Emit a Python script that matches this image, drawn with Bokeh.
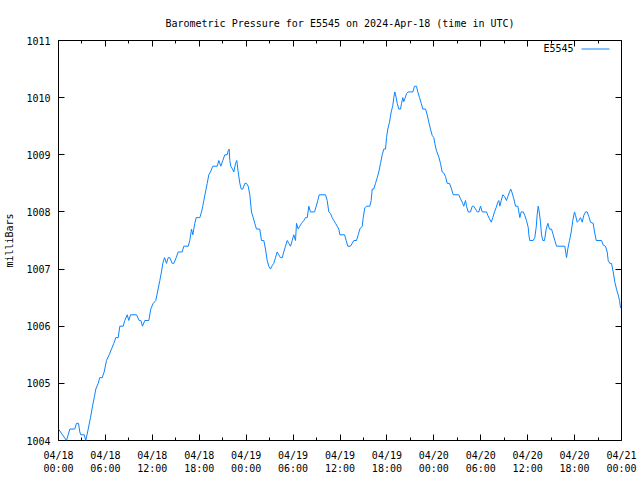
from bokeh.plotting import figure
from bokeh.models import FixedTicker, LinearAxis, Range1d, Label, Arrow
from bokeh.embed import file_html
from bokeh.resources import INLINE

# hours since 2024-04-18 00:00 UTC
hours = [0.00, 0.51, 1.02, 1.24, 1.45, 2.08, 2.30, 2.56, 2.72, 2.85, 3.29, 3.49, 3.80, 4.09, 4.35, 4.57,
         4.77, 5.08, 5.28, 5.59, 5.84, 6.14, 6.48, 6.78, 7.07, 7.33, 7.64, 7.84, 8.27, 8.48, 8.79, 8.99,
         9.21, 9.98, 10.32, 10.53, 10.74, 11.04, 11.55, 11.80, 12.11, 12.44, 12.96, 13.17, 13.34, 13.56,
         13.81, 14.03, 14.23, 14.54, 14.75, 15.05, 15.31, 15.82, 16.02, 16.59, 16.79, 17.01, 17.18, 17.43,
         17.61, 18.07, 18.29, 18.45, 18.58, 18.80, 19.02, 19.22, 19.44, 19.73, 20.30, 20.50, 20.76, 21.01,
         21.27, 21.57, 21.70, 21.83, 21.91, 22.04, 22.25, 22.42, 22.64, 22.80, 22.98, 23.19, 23.37, 23.57,
         23.83, 24.04, 24.26, 24.47, 24.68, 24.90, 25.10, 25.32, 25.74, 25.96, 26.26, 26.47, 26.69, 26.90,
         27.11, 27.33, 27.53, 27.75, 27.97, 28.17, 28.39, 28.61, 28.81, 29.03, 29.25, 29.45, 29.67, 29.89,
         30.09, 30.31, 30.44, 30.66, 30.86, 31.08, 31.37, 31.59, 31.81, 32.01, 32.23, 32.74, 32.96, 33.16,
         33.34, 34.15, 34.36, 34.57, 34.79, 35.00, 35.21, 35.43, 35.64, 35.85, 35.98, 36.58, 36.79, 37.00,
         37.34, 37.56, 37.77, 38.11, 38.33, 38.53, 38.84, 38.97, 39.17, 39.39, 39.81, 39.99, 40.12, 40.32,
         40.54, 40.76, 40.96, 41.18, 41.40, 41.60, 41.82, 41.95, 42.11, 42.33, 42.55, 42.75, 42.88, 43.01,
         43.19, 43.32, 43.52, 43.74, 43.87, 44.03, 44.16, 44.29, 44.51, 44.72, 45.31, 45.53, 45.78, 45.95,
         46.17, 46.39, 46.59, 46.94, 47.15, 47.36, 47.57, 47.79, 48.00, 48.12, 48.34, 48.64, 48.85, 49.07,
         49.28, 49.49, 49.71, 50.00, 50.22, 50.48, 51.19, 51.41, 51.63, 51.83, 52.05, 52.18, 52.40, 52.69,
         52.91, 53.11, 53.33, 53.55, 53.75, 53.97, 54.19, 54.74, 54.90, 55.12, 55.34, 55.54, 55.76, 55.98,
         56.18, 56.31, 56.44, 56.62, 56.82, 57.04, 57.29, 57.46, 57.68, 57.84, 58.02, 58.23, 58.45, 58.74,
         58.87, 59.00, 59.17, 59.43, 59.63, 59.85, 60.07, 60.15, 60.27, 60.71, 60.91, 61.09, 61.22, 61.35,
         61.48, 61.64, 61.77, 61.94, 62.15, 62.37, 62.58, 62.79, 63.05, 63.27, 63.47, 63.69, 64.75, 64.97,
         65.13, 65.35, 65.57, 65.77, 65.99, 66.12, 66.34, 66.54, 66.76, 66.98, 67.18, 67.40, 67.61, 67.82,
         68.04, 68.38, 68.55, 68.77, 69.44, 69.66, 69.95, 70.17, 70.30, 70.50, 70.72, 70.94, 71.15, 71.36,
         71.58, 71.75, 71.88]

pressure = [1004.2, 1004.1, 1004.0, 1004.1, 1004.2, 1004.2, 1004.3, 1004.3, 1004.15, 1004.1, 1004.1, 1004.0,
            1004.2, 1004.4, 1004.6, 1004.75, 1004.9, 1005.0, 1005.1, 1005.1, 1005.2, 1005.4, 1005.5, 1005.6,
            1005.7, 1005.8, 1005.8, 1006.0, 1006.0, 1006.1, 1006.2, 1006.1, 1006.2, 1006.2, 1006.1, 1006.1,
            1006.0, 1006.1, 1006.1, 1006.3, 1006.4, 1006.45, 1006.8, 1006.95, 1007.1, 1007.2, 1007.1, 1007.2,
            1007.2, 1007.1, 1007.1, 1007.2, 1007.3, 1007.3, 1007.4, 1007.4, 1007.5, 1007.7, 1007.6, 1007.8,
            1007.9, 1007.9, 1008.0, 1008.1, 1008.2, 1008.35, 1008.5, 1008.65, 1008.7, 1008.8, 1008.8, 1008.9,
            1008.8, 1008.9, 1009.0, 1009.0, 1009.07, 1009.1, 1008.9, 1008.8, 1008.75, 1008.7, 1008.85, 1008.9,
            1008.7, 1008.5, 1008.4, 1008.4, 1008.5, 1008.5, 1008.45, 1008.3, 1008.0, 1007.9, 1007.8, 1007.7,
            1007.7, 1007.5, 1007.5, 1007.35, 1007.15, 1007.05, 1007.0, 1007.06, 1007.1, 1007.2, 1007.3, 1007.25,
            1007.2, 1007.2, 1007.3, 1007.4, 1007.5, 1007.45, 1007.4, 1007.5, 1007.6, 1007.5, 1007.8, 1007.7,
            1007.75, 1007.8, 1007.85, 1007.9, 1007.9, 1008.1, 1008.0, 1008.0, 1008.1, 1008.2, 1008.3, 1008.3,
            1008.2, 1008.0, 1007.97, 1007.9, 1007.85, 1007.8, 1007.75, 1007.7, 1007.6, 1007.6, 1007.5, 1007.4,
            1007.4, 1007.45, 1007.5, 1007.5, 1007.6, 1007.7, 1007.75, 1007.9, 1008.07, 1008.1, 1008.1, 1008.2,
            1008.4, 1008.4, 1008.5, 1008.6, 1008.7, 1008.85, 1009.0, 1009.1, 1009.1, 1009.3, 1009.45, 1009.57,
            1009.75, 1009.86, 1010.0, 1010.1, 1010.0, 1009.9, 1009.8, 1009.8, 1009.9, 1010.0, 1009.93, 1009.98,
            1010.07, 1010.1, 1010.1, 1010.2, 1010.2, 1010.1, 1010.0, 1009.9, 1009.8, 1009.8, 1009.7, 1009.57,
            1009.45, 1009.34, 1009.3, 1009.2, 1009.07, 1008.96, 1008.85, 1008.7, 1008.68, 1008.62, 1008.5, 1008.5,
            1008.42, 1008.3, 1008.3, 1008.23, 1008.17, 1008.1, 1008.2, 1008.1, 1008.0, 1008.0, 1008.1, 1008.1,
            1008.05, 1008.0, 1008.0, 1008.1, 1008.0, 1008.0, 1007.94, 1007.88, 1007.82, 1007.9, 1008.0, 1008.08,
            1008.17, 1008.2, 1008.1, 1008.2, 1008.3, 1008.27, 1008.2, 1008.27, 1008.35, 1008.4, 1008.33, 1008.23,
            1008.1, 1008.1, 1008.0, 1007.9, 1008.0, 1008.0, 1007.94, 1007.85, 1007.73, 1007.6, 1007.5, 1007.5,
            1007.55, 1007.73, 1007.96, 1008.1, 1008.0, 1007.82, 1007.6, 1007.5, 1007.5, 1007.7, 1007.8, 1007.7,
            1007.7, 1007.6, 1007.5, 1007.4, 1007.4, 1007.2, 1007.35, 1007.5, 1007.65, 1007.85, 1008.0, 1007.94,
            1007.82, 1007.85, 1007.9, 1007.82, 1007.94, 1008.0, 1008.0, 1007.92, 1007.82, 1007.8, 1007.65, 1007.5,
            1007.5, 1007.42, 1007.4, 1007.3, 1007.15, 1007.1, 1007.1, 1006.95, 1006.77, 1006.65, 1006.55, 1006.45,
            1006.32]

x_ticks = [0, 6, 12, 18, 24, 30, 36, 42, 48, 54, 60, 66, 72]
x_tick_labels = ["04/18\n00:00", "04/18\n06:00", "04/18\n12:00", "04/18\n18:00",
                 "04/19\n00:00", "04/19\n06:00", "04/19\n12:00", "04/19\n18:00",
                 "04/20\n00:00", "04/20\n06:00", "04/20\n12:00", "04/20\n18:00",
                 "04/21\n00:00"]
x_minor = [3, 9, 15, 21, 27, 33, 39, 45, 51, 57, 63, 69]
y_ticks = [1004, 1005, 1006, 1007, 1008, 1009, 1010, 1011]

title_text = "Barometric Pressure for E5545 on 2024-Apr-18 (time in UTC)"
series_name = "E5545"
y_label = "milliBars"

FONT = "DejaVu Sans Mono"
LINE_COLOR = "#0a84ff"

p = figure(width=640, height=480, output_backend="svg", toolbar_location=None,
           x_range=Range1d(0, 72), y_range=Range1d(1004, 1011),
           x_axis_location=None, y_axis_location=None,
           min_border_left=58, min_border_right=19, min_border_top=40, min_border_bottom=40)

p.title.text = title_text
p.title.align = "center"
p.title.text_font = FONT
p.title.text_font_size = "10px"
p.title.text_font_style = "normal"
p.title.text_color = "black"
p.title.standoff = 24

p.xgrid.visible = False
p.ygrid.visible = False
p.outline_line_color = "black"
p.outline_line_width = 1
p.outline_line_alpha = 1.0
p.background_fill_color = "white"
p.border_fill_color = "white"

xt = FixedTicker(ticks=x_ticks, minor_ticks=x_minor)
yt = FixedTicker(ticks=y_ticks)


def style(ax, labels=True):
    ax.major_tick_in = 6
    ax.major_tick_out = 0
    ax.minor_tick_in = 3
    ax.minor_tick_out = 0
    ax.major_tick_line_color = "black"
    ax.minor_tick_line_color = "black"
    ax.axis_line_color = None
    ax.major_label_text_font = FONT
    if labels:
        ax.major_label_text_font_size = "10px"
        ax.major_label_text_color = "black"
    else:
        ax.major_label_text_font_size = "1px"
        ax.major_label_text_color = None
        ax.major_label_text_alpha = 0
        ax.major_label_standoff = 0


bottom = LinearAxis(ticker=xt)
style(bottom)
bottom.major_label_overrides = {t: lab for t, lab in zip(x_ticks, x_tick_labels)}
bottom.major_label_standoff = 9
p.add_layout(bottom, "below")

top = LinearAxis(ticker=xt)
style(top, labels=False)
p.add_layout(top, "above")

left = LinearAxis(ticker=yt, axis_label=y_label)
style(left)
left.minor_tick_in = 0
left.major_label_standoff = 8
left.axis_label_text_font = FONT
left.axis_label_text_font_size = "10px"
left.axis_label_text_font_style = "normal"
left.axis_label_text_color = "black"
left.axis_label_standoff = 8
p.add_layout(left, "left")

right = LinearAxis(ticker=yt)
style(right, labels=False)
right.minor_tick_in = 0
p.add_layout(right, "right")

r = p.line(hours, pressure, line_color=LINE_COLOR, line_width=1)

# key (text then line sample, gnuplot style) placed in frame-relative screen units
key_label = Label(x=515, y=392, x_units="screen", y_units="screen", text=series_name,
                  text_font=FONT, text_font_size="10px", text_color="black",
                  text_align="right", text_baseline="middle")
p.add_layout(key_label)
key_line = Arrow(end=None, start=None, x_start=523, y_start=391.5, x_end=551, y_end=391.5,
                 start_units="screen", end_units="screen", line_color=LINE_COLOR, line_width=1)
p.add_layout(key_line)

open("out.html", "w").write(file_html(p, INLINE))
